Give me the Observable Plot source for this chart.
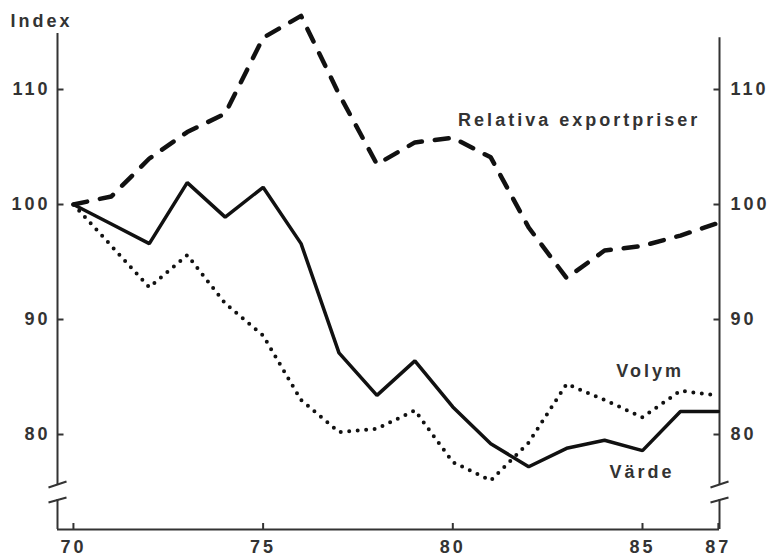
<!DOCTYPE html>
<html><head><meta charset="utf-8">
<script src="https://cdn.jsdelivr.net/npm/d3@7"></script>
<script src="https://cdn.jsdelivr.net/npm/@observablehq/plot@0.6"></script>
<style>
html,body{margin:0;padding:0;background:#fff;}
</style></head>
<body><div id="chart"></div>
<script>
// ---- data ----
const years = [70,71,72,73,74,75,76,77,78,79,80,81,82,83,84,85,86,87];
const exportpriser = [100,100.7,104.0,106.3,107.9,114.5,116.4,109.6,103.5,105.4,105.8,104.1,98.0,93.6,96.0,96.4,97.3,98.4];
const varde  = [100,98.3,96.6,101.9,98.9,101.5,96.6,87.1,83.4,86.4,82.4,79.2,77.2,78.8,79.5,78.6,82.0,82.0];
const volym  = [100,96.4,92.8,95.6,91.4,88.6,83.0,80.2,80.5,82.1,77.6,76.0,79.3,84.4,83.0,81.5,83.8,83.4];
const yTicks = [80,90,100,110];
const xTicks = [70,75,80,85,87];
const labelTexts = ["Index","Relativa exportpriser","Volym","Värde"];
const labelX = [68.34,80.14,84.31,84.13];
const labelY = [115.4,106.87,84.96,76.26];

// ---- scales / frame ----
const xDomain = [69.58, 87.03];
const yDomain = [71.74, 114.87];
const breakTop = 75.65, breakBottom = 74.35;
const pxX = (87.03-69.58)/661;   // one pixel in x units
const pxY = (114.87-71.74)/496;  // one pixel in y units

const rows = years.map((yr,i)=>({year:yr, exportpriser:exportpriser[i], varde:varde[i], volym:volym[i]}));
const labels = labelTexts.map((t,i)=>({text:t, x:labelX[i], y:labelY[i]}));

const axisLines = [
  {x:xDomain[0], y1:breakTop, y2:yDomain[1]},
  {x:xDomain[0], y1:yDomain[0], y2:breakBottom},
  {x:xDomain[1], y1:breakTop, y2:114.5},
  {x:xDomain[1], y1:yDomain[0], y2:breakBottom}
];
const breakMarks = [];
for (const ax of [xDomain[0], xDomain[1]]) {
  breakMarks.push({x1:ax-9*pxX, x2:ax+9*pxX, y1:75.39, y2:75.91});
  breakMarks.push({x1:ax-9*pxX, x2:ax+9*pxX, y1:74.09, y2:74.52});
}
const yTickMarks = [];
for (const v of yTicks) {
  yTickMarks.push({x1:xDomain[0], x2:xDomain[0]+6*pxX, y:v});
  yTickMarks.push({x1:xDomain[1], x2:xDomain[1]-6*pxX, y:v});
}

const ink = "#111";
const grey = "#333";

const chart = Plot.plot({
  width: 772,
  height: 557,
  marginLeft: 57,
  marginRight: 53,
  marginTop: 33,
  marginBottom: 28,
  x: {domain: xDomain},
  y: {domain: yDomain},
  style: "font-family: 'Liberation Sans', Arial, sans-serif; font-size: 18px; font-weight: bold; letter-spacing: 3px; color: #333; background: #fff;",
  marks: [
    Plot.ruleY([yDomain[0]], {stroke: grey, strokeWidth: 2}),
    Plot.ruleX(axisLines, {x: "x", y1: "y1", y2: "y2", stroke: grey, strokeWidth: 2}),
    Plot.link(breakMarks, {x1: "x1", x2: "x2", y1: "y1", y2: "y2", stroke: grey, strokeWidth: 2}),
    Plot.link(yTickMarks, {x1: "x1", x2: "x2", y1: "y", y2: "y", stroke: grey, strokeWidth: 2}),
    Plot.ruleX(xTicks, {y1: yDomain[0], y2: yDomain[0] + 6*pxY, stroke: grey, strokeWidth: 2}),
    Plot.axisY(yTicks, {anchor: "left", tickSize: 0, tickPadding: 7, label: null, tickFormat: d => String(d)}),
    Plot.axisY(yTicks, {anchor: "right", tickSize: 0, tickPadding: 11, label: null, tickFormat: d => String(d)}),
    Plot.axisX(xTicks, {anchor: "bottom", tickSize: 0, tickPadding: 11, label: null, tickFormat: d => String(d)}),
    Plot.line(rows, {x: "year", y: "volym", stroke: ink, strokeWidth: 4, strokeDasharray: "0 8.5", strokeLinecap: "round"}),
    Plot.line(rows, {x: "year", y: "varde", stroke: ink, strokeWidth: 3.5, strokeLinejoin: "miter"}),
    Plot.line(rows, {x: "year", y: "exportpriser", stroke: ink, strokeWidth: 4.5, strokeDasharray: "14 13", strokeLinecap: "round"}),
    Plot.text(labels, {x: "x", y: "y", text: "text", textAnchor: "start", lineAnchor: "bottom", fill: grey})
  ]
});
document.getElementById("chart").append(chart);
</script>
</body></html>
